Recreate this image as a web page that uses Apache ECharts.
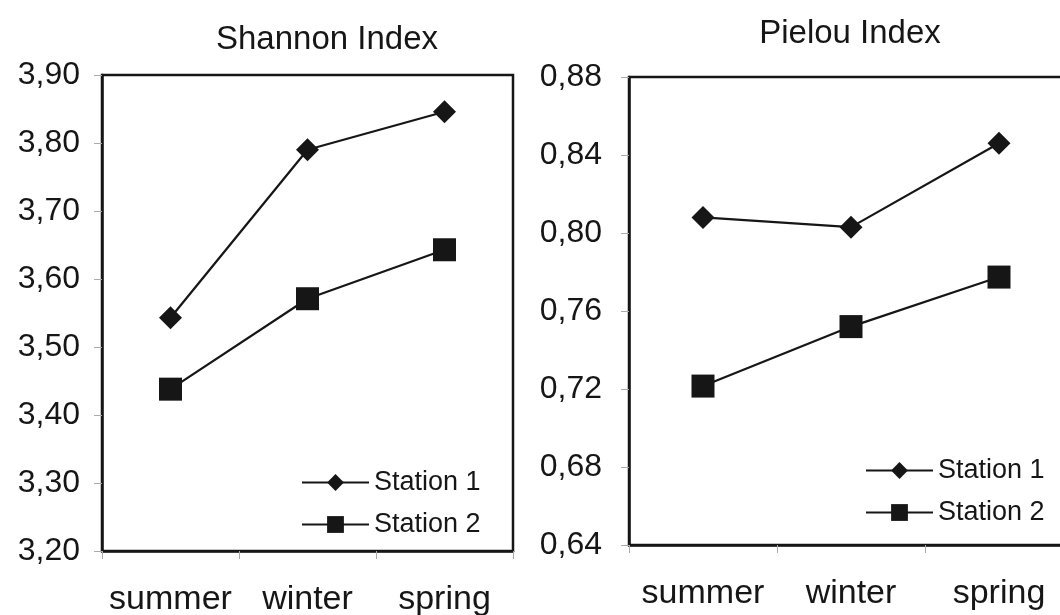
<!DOCTYPE html>
<html>
<head>
<meta charset="utf-8">
<script src="https://cdn.jsdelivr.net/npm/echarts@6/dist/echarts.min.js"></script>
<style>
html,body{margin:0;padding:0;background:#fff;}
#chart{width:1060px;height:615px;}
</style>
</head>
<body>
<div id="chart"></div>
<script>
const categories = ['summer', 'winter', 'spring'];
const shannonStation1 = [3.543, 3.790, 3.846];
const shannonStation2 = [3.438, 3.571, 3.643];
const pielouStation1 = [0.808, 0.803, 0.846];
const pielouStation2 = [0.7215, 0.752, 0.7774];
const seriesNames = ['Station 1', 'Station 2'];

const FONT = "'Liberation Sans', Arial, sans-serif";
const INK = '#161616';
const fmt = v => v.toFixed(2).replace('.', ',');

function xAxis(gridIndex) {
  return {
    type: 'category', gridIndex, data: categories, boundaryGap: true,
    axisLine: { show: true, lineStyle: { color: INK, width: 2.5 } },
    axisTick: { show: true, interval: 0, length: 8, lineStyle: { color: '#aaa', width: 1 } },
    axisLabel: { interval: 0, margin: 32, fontSize: 34, color: INK, fontFamily: FONT },
    splitLine: { show: false }
  };
}
function yAxis(gridIndex, min, max, interval, margin) {
  return {
    type: 'value', gridIndex, min, max, interval,
    axisLine: { show: true, lineStyle: { color: INK, width: 2.5 } },
    axisTick: { show: true, length: 8, lineStyle: { color: '#aaa', width: 1 } },
    axisLabel: { margin, fontSize: 32, color: INK, fontFamily: FONT, formatter: fmt },
    splitLine: { show: false }
  };
}
function line(name, data, idx, symbol, size) {
  return {
    name, type: 'line', data, xAxisIndex: idx, yAxisIndex: idx,
    symbol, symbolSize: size, showSymbol: true,
    lineStyle: { color: INK, width: 2.2 },
    itemStyle: { color: INK, borderColor: INK, borderWidth: 0 },
    animation: false
  };
}
const legendCommon = {
  orient: 'vertical', itemWidth: 67, itemHeight: 21, padding: 0,
  textStyle: { fontSize: 27, color: INK, fontFamily: FONT },
  data: seriesNames, selectedMode: false
};

const chart = echarts.init(document.getElementById('chart'), null, { renderer: 'canvas' });
chart.setOption({
  backgroundColor: '#fff',
  animation: false,
  title: [
    { text: 'Shannon Index', left: 322, top: 35, textAlign: 'center', textVerticalAlign: 'middle',
      textStyle: { fontSize: 33, fontWeight: 'normal', color: INK, fontFamily: FONT } },
    { text: 'Pielou Index', left: 845, top: 29, textAlign: 'center', textVerticalAlign: 'middle',
      textStyle: { fontSize: 33, fontWeight: 'normal', color: INK, fontFamily: FONT } }
  ],
  grid: [
    { left: 102, top: 75, width: 411, height: 476, show: true, borderColor: INK, borderWidth: 2.5,
      backgroundColor: 'transparent', outerBoundsMode: 'none', containLabel: false },
    { left: 629, top: 77, width: 444, height: 468, show: true, borderColor: INK, borderWidth: 2.5,
      backgroundColor: 'transparent', outerBoundsMode: 'none', containLabel: false }
  ],
  legend: [
    Object.assign({ left: 301, top: 469, itemGap: 15 }, legendCommon),
    Object.assign({ left: 865, top: 457, itemGap: 15 }, legendCommon)
  ],
  xAxis: [xAxis(0), xAxis(1)],
  yAxis: [yAxis(0, 3.2, 3.9, 0.1, 22), yAxis(1, 0.64, 0.88, 0.04, 27)],
  series: [
    line(seriesNames[0], shannonStation1, 0, 'diamond', 23),
    line(seriesNames[1], shannonStation2, 0, 'rect', 23),
    line(seriesNames[0], pielouStation1, 1, 'diamond', 23),
    line(seriesNames[1], pielouStation2, 1, 'rect', 23)
  ]
});
</script>
</body>
</html>
